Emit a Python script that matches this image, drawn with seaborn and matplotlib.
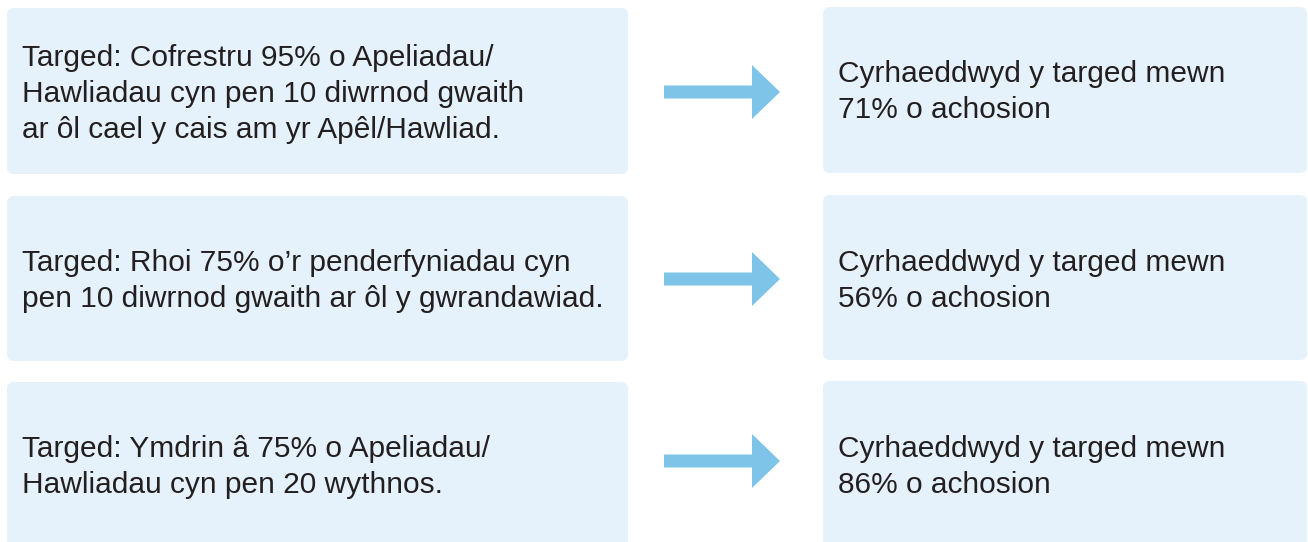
"""
Targets vs. results infographic (three rows: target box -> arrow -> result box).
"""

import matplotlib
matplotlib.use('Agg')
import matplotlib.pyplot as plt
from matplotlib.patches import FancyBboxPatch, FancyArrow
import seaborn as sns

# Data
targets = [
    "Targed: Cofrestru 95% o Apeliadau/\nHawliadau cyn pen 10 diwrnod gwaith\nar ôl cael y cais am yr Apêl/Hawliad.",
    "Targed: Rhoi 75% o’r penderfyniadau cyn\npen 10 diwrnod gwaith ar ôl y gwrandawiad.",
    "Targed: Ymdrin â 75% o Apeliadau/\nHawliadau cyn pen 20 wythnos.",
]
achieved_pct = [71, 56, 86]
result_label = "Cyrhaeddwyd y targed mewn\n{}% o achosion"

sns.set_theme(style="white")
plt.rcParams['font.family'] = ['Liberation Sans', 'DejaVu Sans']

BOX_COLOR = "#E6F2FB"
ARROW_COLOR = "#7DC4E8"
TEXT_COLOR = "#231F20"

fig, ax = plt.subplots(figsize=(13.08, 5.42), dpi=100)
fig.subplots_adjust(left=0, right=1, top=1, bottom=0)
ax.set_xlim(0, 1308)
ax.set_ylim(542, 0)   # pixel-like coordinates, y downwards
ax.axis("off")

# row geometry in pixels: box top, box bottom, arrow centre, text centres
box_top = [8, 196, 382]
box_bottom = [174, 361, 560]
arrow_y = [92, 279, 461]
left_text_y = [94, 281, 467]
right_text_y = [92, 281, 467]

for i, (target, pct) in enumerate(zip(targets, achieved_pct)):
    top, bottom = box_top[i], box_bottom[i]

    ax.add_patch(FancyBboxPatch((7, top), 621, bottom - top,
                                boxstyle="round,pad=0,rounding_size=7",
                                fc=BOX_COLOR, ec="none"))
    ax.add_patch(FancyBboxPatch((823, top - 1), 484, bottom - top,
                                boxstyle="round,pad=0,rounding_size=7",
                                fc=BOX_COLOR, ec="none"))

    ax.add_patch(FancyArrow(664, arrow_y[i], 116, 0, width=13, head_width=54,
                            head_length=28, length_includes_head=True,
                            fc=ARROW_COLOR, ec="none"))

    ax.text(22, left_text_y[i], target, ha="left", va="center", fontsize=21.5,
            color=TEXT_COLOR, linespacing=1.35)
    ax.text(838, right_text_y[i], result_label.format(pct), ha="left",
            va="center", fontsize=21.5, color=TEXT_COLOR, linespacing=1.35)

fig.savefig("out.png", dpi=100)
plt.close(fig)
